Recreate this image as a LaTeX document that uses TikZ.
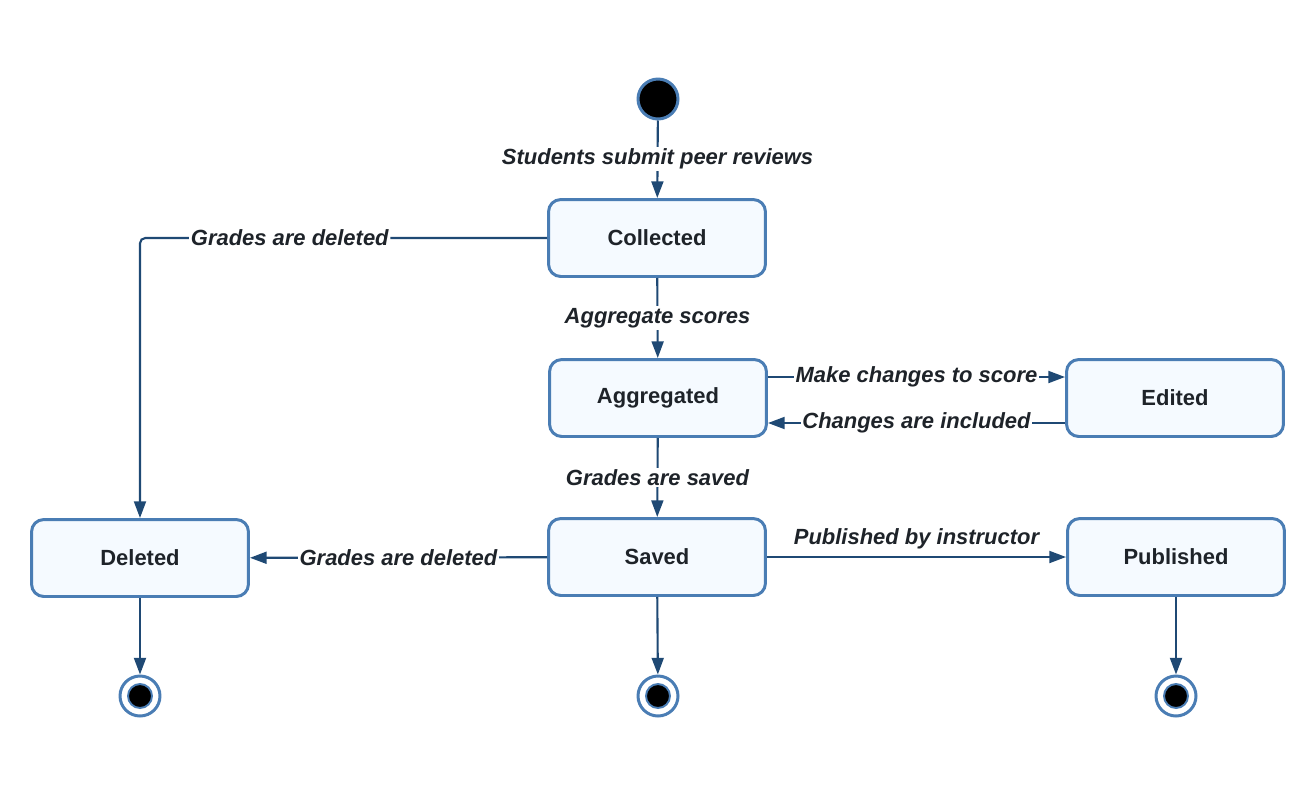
\documentclass[tikz,border=0pt]{standalone}
\definecolor{stateBlue}{RGB}{74, 125, 180}
\definecolor{stateFill}{RGB}{245, 250, 255}
\definecolor{lineNavy}{RGB}{31, 73, 116}
\definecolor{textDark}{RGB}{30, 35, 41}
\usepackage{fontspec}
\setmainfont{Liberation Sans}
\usepackage{tikz}
\usetikzlibrary{positioning,calc,arrows.meta}

\begin{document}
\begin{tikzpicture}[x=0.02cm,y=-0.02cm,
                state/.style={draw=stateBlue,fill=stateFill,line width=1.7pt,rounded corners=7pt,
                              minimum width=4.34cm,minimum height=1.54cm,
                              font=\fontsize{12.5}{15}\selectfont\bfseries,text=textDark},
                initial/.style={circle,draw=stateBlue,fill=black,line width=1.7pt,minimum size=0.8cm,inner sep=0pt},
                final/.style={circle,draw=stateBlue,fill=white,line width=1.7pt,minimum size=0.8cm,inner sep=0pt},
                trans/.style={draw=lineNavy,line width=1.2pt,-{Triangle[length=9.5pt,width=6.8pt]}},
                lbl/.style={fill=white,inner sep=1pt,text=textDark,
                            font=\fontsize{12.5}{15}\selectfont\bfseries\itshape}
            ]
                \useasboundingbox (0,0) rectangle (1316,796);
                % states
                \node[initial] (start) at (658,99) {};
                \node[state] (collected) at (657,238) {Collected};
                \node[state] (aggregated) at (658,398) {Aggregated};
                \node[state] (edited) at (1175,398) {Edited};
                \node[state] (saved) at (657,557) {Saved};
                \node[state] (deleted) at (140,558) {Deleted};
                \node[state] (published) at (1176,557) {Published};
                \node[final] (endDeleted) at (140,696) {};
                \node[final] (endSaved) at (658,696) {};
                \node[final] (endPublished) at (1176,696) {};
                \foreach \e in {endDeleted,endSaved,endPublished}
                    \draw[stateBlue,line width=1.1pt,fill=black] (\e.center) circle (12);
                % transitions
                \draw[trans] (start) -- node[lbl]{Students submit peer reviews} (collected);
                \draw[trans,rounded corners=3pt] (collected.west) -| node[lbl,pos=0.316]{Grades are deleted} (deleted);
                \draw[trans] (collected) -- node[lbl]{Aggregate scores} (aggregated);
                \draw[trans] ([yshift=0.42cm]aggregated.east) -- node[lbl]{Make changes to score} ([yshift=0.42cm]edited.west);
                \draw[trans] ([yshift=-0.5cm]edited.west) -- node[lbl]{Changes are included} ([yshift=-0.5cm]aggregated.east);
                \draw[trans] (aggregated) -- node[lbl]{Grades are saved} (saved);
                \draw[trans] (saved) -- node[lbl]{Grades are deleted} (deleted);
                \draw[trans] (saved) -- node[lbl,above=3pt,fill=none]{Published by instructor} (published);
                \draw[trans] (deleted) -- (endDeleted);
                \draw[trans] (saved) -- (endSaved);
                \draw[trans] (published) -- (endPublished);
            \end{tikzpicture}
\end{document}
